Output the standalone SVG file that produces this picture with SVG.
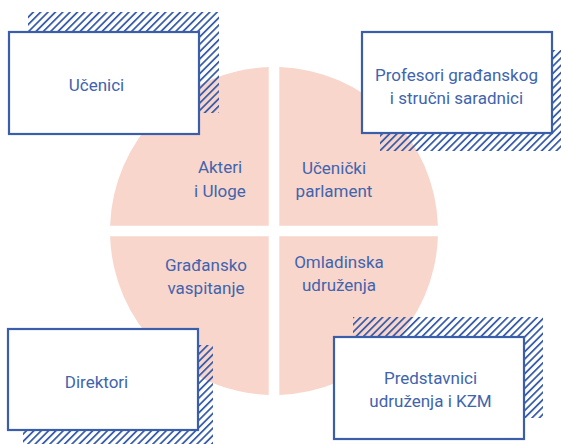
<svg xmlns="http://www.w3.org/2000/svg" width="561" height="444" viewBox="0 0 561 444">
<style>
.q{fill:#f9d6cc}
.box{fill:#fff;stroke:#3a5ea9;stroke-width:2.2}
.hatch{fill:url(#hp)}
text{font-family:Roboto,"Liberation Sans",sans-serif;font-size:17px;fill:#4164ad;text-anchor:middle}
</style>
<defs>
<pattern id="hp" patternUnits="userSpaceOnUse" width="5.2" height="10" patternTransform="rotate(45)">
<rect x="0" y="0" width="1.8" height="10" fill="#3a5ea9"/>
</pattern>
</defs>
<rect width="561" height="444" fill="#fff"/>
<g id="circle">
<g id="q-akteri"><path class="q" d="M268.7,225.7 V67.09 A164,164 0 0,0 110.09,225.7 Z"/><text x="220" y="173">Akteri</text><text x="220" y="196.5">i Uloge</text></g>
<g id="q-parlament"><path class="q" d="M279.3,225.7 H437.91 A164,164 0 0,0 279.3,67.09 Z"/><text x="334" y="174">Učenički</text><text x="334" y="197">parlament</text></g>
<g id="q-gradjansko"><path class="q" d="M268.7,236.3 H110.09 A164,164 0 0,0 268.7,394.91 Z"/><text x="206" y="270.5">Građansko</text><text x="206" y="294">vaspitanje</text></g>
<g id="q-omladinska"><path class="q" d="M279.3,236.3 V394.91 A164,164 0 0,0 437.91,236.3 Z"/><text x="339" y="267.5">Omladinska</text><text x="339" y="291">udruženja</text></g>
</g>
<g id="connectors"/>
<g id="n-ucenici">
<rect class="hatch" x="28" y="12" width="191" height="101"/>
<rect class="box" x="9" y="32" width="190" height="102"/>
<text x="96.5" y="91">Učenici</text>
</g>
<g id="n-profesori">
<rect class="hatch" x="380" y="50" width="190" height="101"/>
<rect class="box" x="362" y="32" width="190" height="101"/>
<text x="456.5" y="81">Profesori građanskog</text>
<text x="456.5" y="103.5">i stručni saradnici</text>
</g>
<g id="n-direktori">
<rect class="hatch" x="23" y="345" width="190" height="101"/>
<rect class="box" x="8" y="329" width="190" height="101"/>
<text x="96.5" y="388">Direktori</text>
</g>
<g id="n-predstavnici">
<rect class="hatch" x="353" y="317" width="190" height="101"/>
<rect class="box" x="334" y="337" width="190" height="102"/>
<text x="430.5" y="384">Predstavnici</text>
<text x="430.5" y="407">udruženja i KZM</text>
</g>
</svg>
